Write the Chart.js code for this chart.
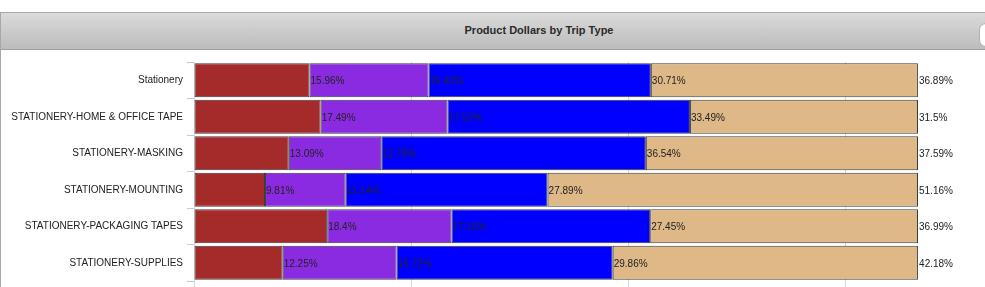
<!DOCTYPE html>
<html>
<head>
<meta charset="utf-8">
<script src="https://cdn.jsdelivr.net/npm/chart.js@4.4.0/dist/chart.umd.min.js"></script>
<style>
  html, body { margin: 0; padding: 0; background: #fff; width: 985px; height: 287px; overflow: hidden; }
  #panel { position: absolute; left: 0; top: 12px; width: 1000px; height: 300px; border-left: 1px solid #a8a8a8; border-top: 1px solid #a8a8a8; box-sizing: border-box; }
  #header { height: 37px; border-bottom: 1px solid #a0a0a0; box-sizing: border-box;
            background: linear-gradient(#dadada, #bcbcbc); position: relative; }
  #title { position: absolute; left: 0; width: 1076px; top: 11px; text-align: center;
           font: bold 11px "Liberation Sans", Arial, sans-serif; color: #2a2a2a; }
  #knob { position: absolute; left: 978px; top: 10px; width: 20px; height: 22px; border-radius: 7px;
          background: #fff; border: 1px solid #b0b0b0; }
  #wrap { position: absolute; left: 0; top: 50px; width: 985px; height: 241px; }
</style>
</head>
<body>
<div id="panel">
  <div id="header"><div id="title">Product Dollars by Trip Type</div><div id="knob"></div></div>
</div>
<div id="wrap"><canvas id="tripChart" width="985" height="241"></canvas></div>
<script>
// categories and percentage shares per trip type segment
const categories = [
    "Stationery",
    "STATIONERY-HOME & OFFICE TAPE",
    "STATIONERY-MASKING",
    "STATIONERY-MOUNTING",
    "STATIONERY-PACKAGING TAPES",
    "STATIONERY-SUPPLIES"
];
const segment1 = [15.96, 17.49, 13.09, 9.81, 18.4, 12.25];
const segment2 = [16.43, 17.52, 12.78, 11.14, 17.16, 15.72];
const segment3 = [30.71, 33.49, 36.54, 27.89, 27.45, 29.86];
const segment4 = [36.89, 31.5, 37.59, 51.16, 36.99, 42.18];
const xTicks = [0, 30, 60, 90];

const colors = ['#A52A2A', '#8A2BE2', '#0000FF', '#DEB887'];

// writes each value just past the right end of its segment
const endLabels = {
    id: 'endLabels',
    afterDatasetsDraw(chart) {
        const ctx = chart.ctx;
        ctx.save();
        ctx.font = '10px "Liberation Sans", Arial, sans-serif';
        ctx.fillStyle = '#222';
        ctx.textAlign = 'left';
        ctx.textBaseline = 'middle';
        chart.data.datasets.forEach((ds, i) => {
            chart.getDatasetMeta(i).data.forEach((bar, j) => {
                ctx.fillText(ds.data[j] + '%', bar.x + 1, bar.y + 1);
            });
        });
        ctx.restore();
    }
};

document.addEventListener("DOMContentLoaded", function () {
    const series = [segment1, segment2, segment3, segment4];
    new Chart(document.getElementById('tripChart').getContext('2d'), {
        type: 'bar',
        data: {
            labels: categories,
            datasets: series.map((s, i) => ({
                data: s,
                backgroundColor: colors[i],
                borderColor: '#3c3c3c',
                borderWidth: 1,
                borderSkipped: false,
                barPercentage: 0.93,
                categoryPercentage: 1
            }))
        },
        options: {
            indexAxis: 'y',
            responsive: false,
            animation: false,
            layout: { padding: { top: 12, right: 67, bottom: 0, left: 0 } },
            plugins: { legend: { display: false }, tooltip: { enabled: false } },
            scales: {
                x: {
                    stacked: true,
                    min: 0,
                    max: 100,
                    afterBuildTicks: function (scale) {
                        scale.ticks = xTicks.map(v => ({ value: v }));
                    },
                    afterFit: function (scale) { scale.height = 10; },
                    ticks: { display: false },
                    grid: { color: '#d8d8d8', tickLength: 10 },
                    border: { display: false }
                },
                y: {
                    stacked: true,
                    afterFit: function (scale) { scale.width = 194; },
                    ticks: {
                        color: '#222',
                        padding: 4,
                        font: { family: '"Liberation Sans", Arial, sans-serif', size: 10 }
                    },
                    grid: { offset: true, drawOnChartArea: false, tickLength: 7, color: '#c8c8c8' },
                    border: { display: false }
                }
            }
        },
        plugins: [endLabels]
    });
});
</script>
</body>
</html>
